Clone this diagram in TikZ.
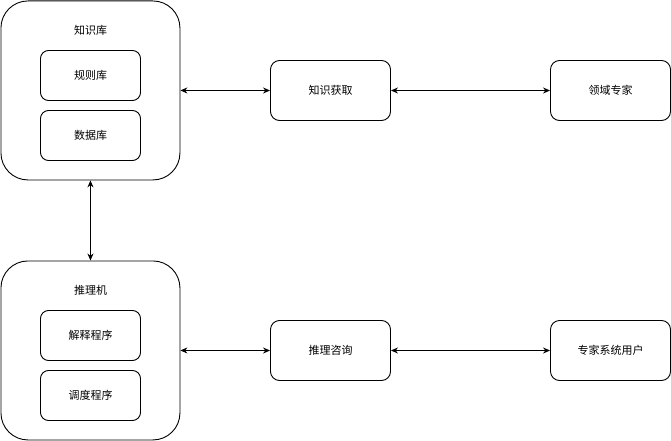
\documentclass[tikz,border=0pt]{standalone}
\usepackage{fontspec}
\newfontfamily\cjk{Noto Sans CJK SC}
\usetikzlibrary{arrows.meta}
\begin{document}
\begin{tikzpicture}[x=1pt,y=-1pt,
  every node/.style={font=\cjk\fontsize{11}{13}\selectfont},
  bigbox/.style={draw,line width=0.9pt,rounded corners=27pt,minimum width=179pt,minimum height=179pt,inner sep=0pt,anchor=north west},
  innerbox/.style={draw,line width=0.9pt,rounded corners=8pt,minimum width=100pt,minimum height=50pt,inner sep=0pt},
  smallbox/.style={draw,line width=0.9pt,rounded corners=9pt,minimum width=120pt,minimum height=60pt,inner sep=0pt},
  conn/.style={line width=0.9pt,{Stealth[length=7pt,width=6pt]}-{Stealth[length=7pt,width=6pt]}}]
\useasboundingbox (0,0) rectangle (671,441);
\node[bigbox] (kb) at (0.5,0.5) {};
\node at (90.5,30) (kbl) {知识库};
\node[innerbox] (rule) at (90.5,75.5) {规则库};
\node[innerbox] (data) at (90.5,135.5) {数据库};
\node[bigbox] (ie) at (0.5,260.5) {};
\node at (90.5,290) (iel) {推理机};
\node[innerbox] (expl) at (90.5,335.5) {解释程序};
\node[innerbox] (sched) at (90.5,395.5) {调度程序};
\node[smallbox] (acq) at (330.5,90.5) {知识获取};
\node[smallbox] (dom) at (610.5,90.5) {领域专家};
\node[smallbox] (cons) at (330.5,350.5) {推理咨询};
\node[smallbox] (user) at (610.5,350.5) {专家系统用户};
\draw[conn] (kb.east) -- (acq.west);
\draw[conn] (acq.east) -- (dom.west);
\draw[conn] (kb.south) -- (ie.north);
\draw[conn] (ie.east) -- (cons.west);
\draw[conn] (cons.east) -- (user.west);
\end{tikzpicture}
\end{document}
